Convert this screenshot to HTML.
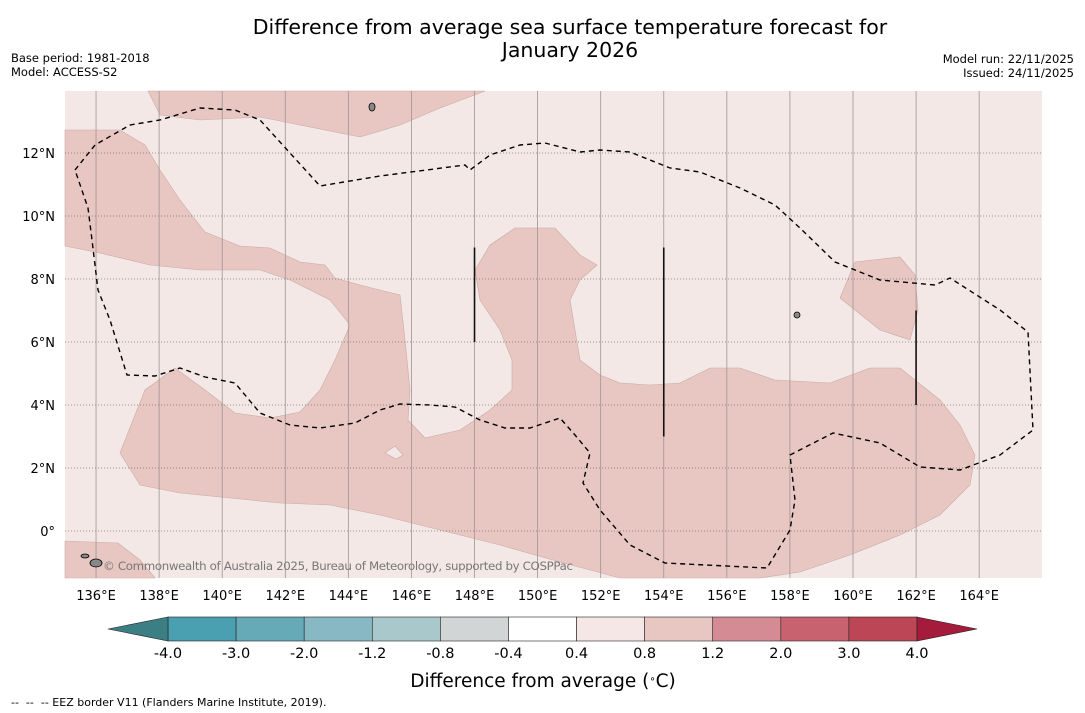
<!DOCTYPE html>
<html><head><meta charset="utf-8"><style>
body{margin:0;background:#fff;font-family:"DejaVu Sans","Liberation Sans",sans-serif;}
svg{display:block}
</style></head><body>
<svg id="s" width="1085" height="713" xmlns="http://www.w3.org/2000/svg">
<text x="570" y="34" font-size="20.5" text-anchor="middle">Difference from average sea surface temperature forecast for</text>
<text x="570" y="57" font-size="20.5" text-anchor="middle">January 2026</text>
<text x="11" y="62" font-size="11.5">Base period: 1981-2018</text>
<text x="11" y="76" font-size="11.5">Model: ACCESS-S2</text>
<text x="1074" y="63" font-size="11.5" text-anchor="end">Model run: 22/11/2025</text>
<text x="1074" y="77" font-size="11.5" text-anchor="end">Issued: 24/11/2025</text>
<g id="map"></g>
<g id="cb"></g>
<text x="543" y="687" font-size="18.5" text-anchor="middle">Difference from average (<tspan baseline-shift="super" font-size="10">∘</tspan>C)</text>
<text x="11" y="706" font-size="11" xml:space="preserve">--  --  -- EEZ border V11 (Flanders Marine Institute, 2019).</text>
<g id="map2"></g>
</svg>
<script>
const lonTicks=[136,138,140,142,144,146,148,150,152,154,156,158,160,162,164];
const latTicks=[0,2,4,6,8,10,12];
const cbBounds=[-4.0,-3.0,-2.0,-1.2,-0.8,-0.4,0.4,0.8,1.2,2.0,3.0,4.0];
const cbColors=["#4aa0b0","#66aab8","#88b8c3","#a8c8cc","#d2d5d5","#ffffff","#f4e7e5","#e8c6c1","#d48b93","#c8626f","#bd4656"];
const cbExt=["#3b7e84","#a51b3b"];
const NS="http://www.w3.org/2000/svg";
const X0=65,X1=1042,Y0=91,Y1=578;
const lonX=l=>64.5+(l-135)*31.54, latY=a=>531-a*31.5;
function mk(p,t,a){const e=document.createElementNS(NS,t);for(const k in a)e.setAttribute(k,a[k]);p.appendChild(e);return e;}
const map=document.getElementById('map');
const bg=mk(map,'rect',{x:X0,y:Y0,width:X1-X0,height:Y1-Y0,fill:'#f4e8e6'});


const shapeMain=[[65,130],[120,130],[145,145],[160,170],[180,200],[205,232],[240,246],[270,248],[300,262],[325,265],[335,278],[360,285],[400,295],[405,340],[410,390],[408,420],[425,438],[460,430],[490,410],[512,390],[512,360],[500,330],[480,300],[475,270],[490,245],[515,228],[555,228],[580,255],[597,265],[580,280],[570,300],[575,330],[580,360],[600,375],[620,383],[650,385],[680,383],[710,368],[740,368],[775,380],[830,383],[870,368],[900,368],[915,380],[940,400],[960,425],[975,455],[970,485],[940,515],[900,535],[850,555],[800,572],[760,578],[620,578],[560,562],[500,545],[440,530],[380,515],[330,505],[280,503],[220,497],[180,493],[140,485],[120,453],[133,420],[145,390],[175,368],[205,390],[235,413],[270,418],[300,412],[320,390],[335,360],[350,325],[330,300],[290,280],[260,270],[200,270],[150,265],[100,253],[65,246]];
const shapeTop=[[148,91],[160,115],[200,120],[260,117],[300,125],[360,137],[400,125],[440,108],[485,91]];
const shapeRight=[[855,262],[900,257],[915,275],[918,310],[910,340],[880,330],[840,298]];
const shapeBL=[[65,541],[118,543],[140,560],[155,578],[65,578]];
const hole=[[385,453],[395,446],[403,455],[396,459]];
const eez=[[75,170],[95,145],[130,125],[160,120],[200,108],[235,110],[260,120],[320,186],[380,176],[465,165],[470,170],[490,155],[520,145],[545,143],[580,152],[600,150],[630,152],[670,168],[700,172],[740,188],[775,205],[800,228],[835,262],[880,280],[935,285],[950,278],[1000,310],[1028,332],[1033,430],[1000,455],[960,470],[920,467],[880,443],[833,433],[790,455],[795,500],[790,530],[767,568],[665,563],[630,545],[600,510],[583,483],[590,453],[575,435],[560,418],[530,428],[505,428],[480,420],[455,407],[430,405],[400,404],[380,410],[355,423],[320,428],[290,425],[260,413],[235,383],[205,377],[180,368],[155,376],[127,375],[110,320],[98,290],[92,240],[88,208],[75,170]];
const pts=a=>a.map(p=>p.join(',')).join(' ');
[['main',shapeMain],['top',shapeTop],['right',shapeRight],['bottom-left',shapeBL]].forEach(([n,s])=>{
 const e=mk(map,'polygon',{points:pts(s),fill:'#e8c7c2',stroke:'#c9aaa6','stroke-width':0.6});
 
 
});
const h=mk(map,'polygon',{points:pts(hole),fill:'#f4e8e6',stroke:'#c9aaa6','stroke-width':0.6});


lonTicks.forEach(l=>{const x=lonX(l);
 const g=mk(map,'line',{x1:x,x2:x,y1:Y0,y2:Y1,stroke:'#a09494','stroke-width':0.8});
 
 
 const t=mk(map,'text',{x:x,y:600,'font-size':13,'text-anchor':'middle'});t.textContent=l+'°E';
 
 
});
latTicks.forEach(a=>{const y=latY(a);
 const g=mk(map,'line',{x1:X0,x2:X1,y1:y,y2:y,stroke:'#777','stroke-width':0.8,'stroke-dasharray':'1,2'});
 
 
 const t=mk(map,'text',{x:55,y:y+5,'font-size':13,'text-anchor':'end'});t.textContent=a===0?'0°':a+'°N';
 
 
});
const ez=mk(map,'polyline',{points:pts(eez),fill:'none',stroke:'#000','stroke-width':1.4,'stroke-dasharray':'5,4'});


[[148,9,6],[154,9,3],[162,7,4]].forEach(([lo,a,b])=>{
 const e=mk(map,'line',{x1:lonX(lo),x2:lonX(lo),y1:latY(a),y2:latY(b),stroke:'#111','stroke-width':1.6});
 
 
});
[[372,107,3,4],[797,315,3,3],[85,556,4,2],[96,563,6,4]].forEach(([x,y,rx,ry])=>{
 const e=mk(map,'ellipse',{cx:x,cy:y,rx:rx,ry:ry,fill:'#888',stroke:'#000','stroke-width':0.8});
 
 
});
const cr=mk(map,'text',{x:103,y:570,'font-size':11.8,fill:'#777',textLength:470});cr.textContent='© Commonwealth of Australia 2025, Bureau of Meteorology, supported by COSPPac';


const cb=document.getElementById('cb');
const cL=168,cR=917,cT=617,cB=641,n=cbColors.length,w=(cR-cL)/n;
cbColors.forEach((c,i)=>{const r=mk(cb,'rect',{x:cL+i*w,y:cT,width:w,height:cB-cT,fill:c,stroke:'#222','stroke-width':0.6});
 
 });
const e1=mk(cb,'polygon',{points:`${cL},${cT} 108,629 ${cL},${cB}`,fill:cbExt[0],stroke:'#222','stroke-width':0.6});


const e2=mk(cb,'polygon',{points:`${cR},${cT} 977,629 ${cR},${cB}`,fill:cbExt[1],stroke:'#222','stroke-width':0.6});


cbBounds.forEach((v,i)=>{const t=mk(cb,'text',{x:cL+i*w,y:658,'font-size':14.5,'text-anchor':'middle'});t.textContent=v.toFixed(1);
 
 });
</script>
</body></html>
